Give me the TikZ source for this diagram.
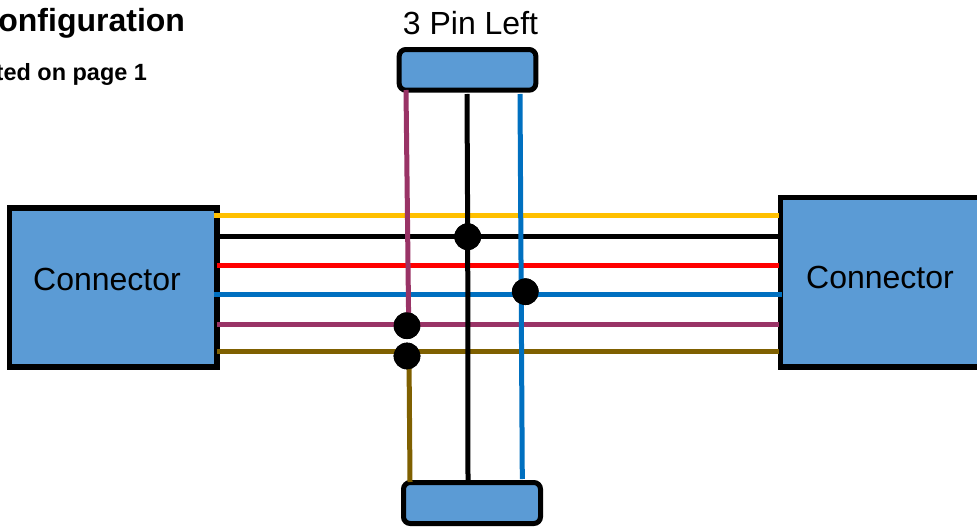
\documentclass[tikz,border=0pt]{standalone}
\usepackage{fontspec}
\setmainfont{Liberation Sans}
\definecolor{boxblue}{HTML}{5B9BD5}
\definecolor{wyellow}{HTML}{FFC000}
\definecolor{wblue}{HTML}{0070C0}
\definecolor{wpurple}{HTML}{993366}
\definecolor{wbrown}{HTML}{7F6000}
\tikzset{
  x=0.75pt,y=-0.75pt,
  wire/.style={line width=3.75pt},
  conn/.style={draw=black,fill=boxblue,line width=4.1pt,rectangle,inner sep=0pt,outer sep=0pt},
  pinbox/.style={conn,line width=3.75pt,rounded corners=5pt},
  dot/.style={circle,fill=black,inner sep=0pt,outer sep=0pt,minimum size=20pt},
  lbl/.style={inner sep=0pt,outer sep=0pt,font=\fontsize{24}{28}\selectfont},
  boldt/.style={inner sep=0pt,outer sep=0pt,font=\bfseries\fontsize{#1}{#1}\selectfont,anchor=base east}
}
\begin{document}
\begin{tikzpicture}
\useasboundingbox (0,0) rectangle (977,527);
\clip (0,0) rectangle (977,527);
% boxes
\node[conn,minimum width=155.6pt,minimum height=119.25pt] (left) at (113.25,287.5) {};
\node[conn,minimum width=157pt,minimum height=127.1pt] (right) at (885.35,282.25) {};
\node[pinbox,minimum width=102.5pt,minimum height=30.5pt] (top) at (467.5,69.85) {};
\node[pinbox,minimum width=102.75pt,minimum height=30.75pt] (bottom) at (472,503) {};
% wire ends
\coordinate (pt) at (406,90);
\coordinate (pe) at (408.7,325);
\coordinate (kt) at (467,94);
\coordinate (bt) at (520,94);
\coordinate (kb) at (468,480);
\coordinate (bb) at (522.3,479);
\coordinate (ns) at (409,356);
\coordinate (nb) at (410,482);
\coordinate (yl) at (214,216);  \coordinate (yr) at (779,216);
\coordinate (kl) at (220,237);  \coordinate (kr) at (778,237);
\coordinate (rl) at (217,265);  \coordinate (rr) at (779,265);
\coordinate (ul) at (214,294.5);\coordinate (ur) at (782,294.5);
\coordinate (vl) at (217,324);  \coordinate (vr) at (779,324);
\coordinate (nl) at (217,351.5);\coordinate (nr) at (779,351.5);
% junction dots
\node[dot] (dk) at (467.7,236.7) {};
\node[dot] (du) at (525.3,291.7) {};
\node[dot] (dv) at (407,325.7) {};
\node[dot] (dn) at (407,356) {};
% horizontal wires
\draw[wire,wyellow] (yl) -- (yr);
\draw[wire,black] (kl) -- (kr);
\draw[wire,red] (rl) -- (rr);
\draw[wire,wblue] (ul) -- (ur);
\draw[wire,wpurple] (vl) -- (vr);
\draw[wire,wbrown] (nl) -- (nr);
% vertical wires
\draw[wire,wpurple] (pt) -- (pe);
\draw[wire,black] (kt) -- (dk.center) -- (kb);
\draw[wire,wblue] (bt) -- (bb);
\draw[wire,wbrown] (ns) -- (nb);
% dots on top of wires
\node[dot] at (dk) {};
\node[dot] at (du) {};
\node[dot] at (dv) {};
\node[dot] at (dn) {};
% text
\node[lbl] (lt) at (107,279) {Connector};
\node[lbl] (rt) at (880,277) {Connector};
\node[lbl] (pl) at (470.5,23) {3 Pin Left};
\node[boldt=24] (t1) at (185,32) {onfiguration};
\node[boldt=17.6] (t2) at (147,81) {ted on page 1};
\end{tikzpicture}
\end{document}
